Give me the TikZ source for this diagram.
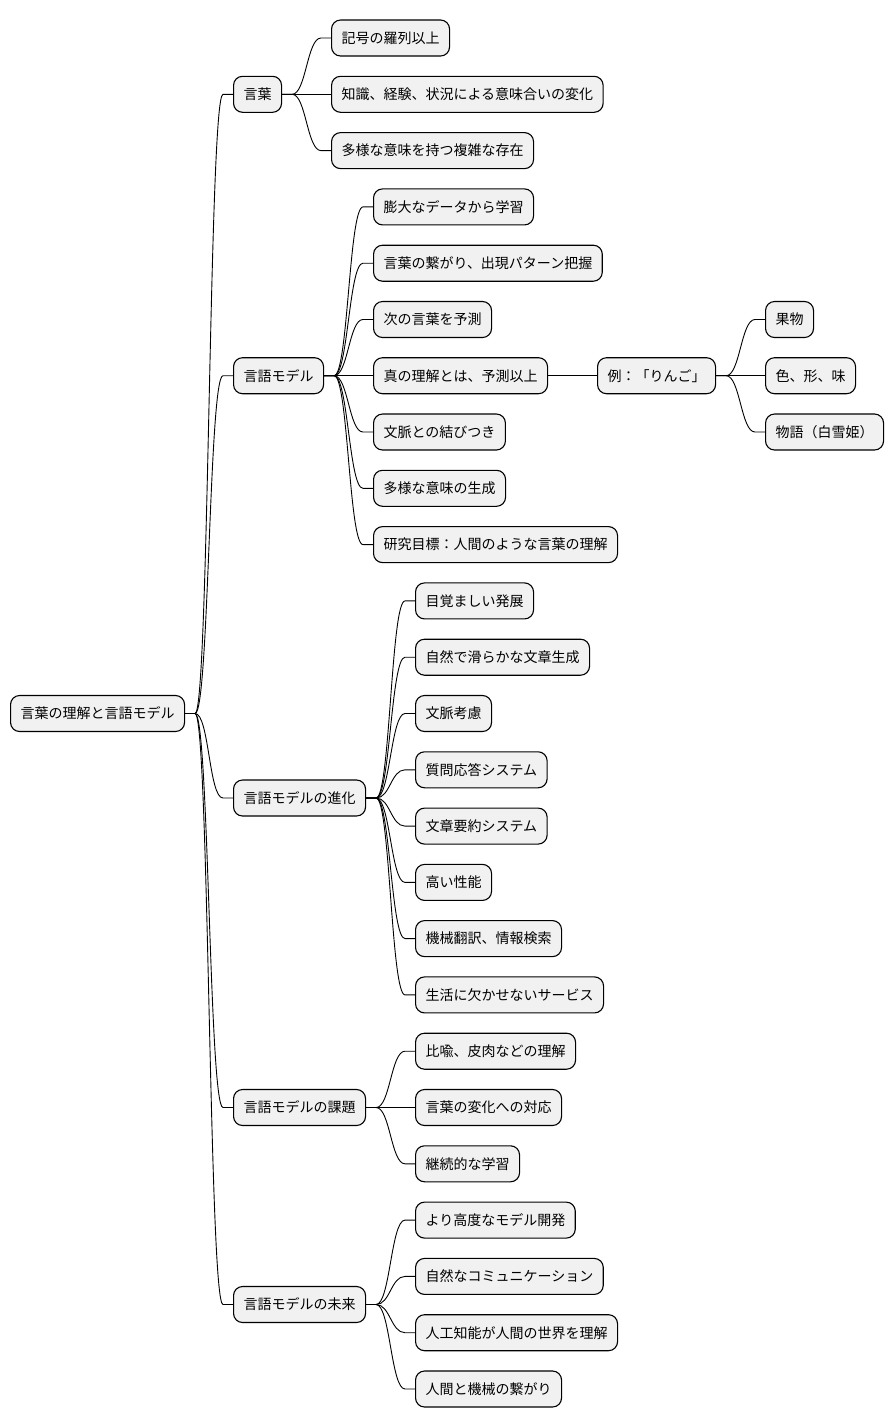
\documentclass[tikz,border=0pt]{standalone}
\usepackage{fontspec}
\setmainfont{Noto Sans CJK JP}
\usetikzlibrary{calc}
\definecolor{nodefill}{HTML}{F1F1F1}
\tikzset{
  mm/.style={draw=black, fill=nodefill, rounded corners=9pt, line width=1.1pt,
    inner xsep=10pt, inner ysep=0pt, minimum height=36pt, anchor=west,
    text height=12pt, text depth=1.4pt, font=\fontsize{14pt}{16pt}\selectfont},
  conn/.style={line width=0.9pt, draw=black}
}
\newcommand{\mmlink}[2]{\draw[conn] (#1.east) -- ($(#1.east)+(10,0)$) .. controls ($(#1.east)+(24,0)$) and ($(#2.west)+(-24,0)$) .. ($(#2.west)+(-10,0)$) -- (#2.west);}
\begin{document}
\begin{tikzpicture}[x=1pt,y=1pt]
\useasboundingbox (0,0) rectangle (894,-1428);
% root
\node[mm] (root) at (10,-713.5) {言葉の理解と言語モデル};
% level 1
\node[mm] (k) at (233,-94.3) {言葉};
\node[mm] (m) at (233,-375.7) {言語モデル};
\node[mm] (sh) at (233,-798.0) {言語モデルの進化};
\node[mm] (ka) at (233,-1107.5) {言語モデルの課題};
\node[mm] (mi) at (233,-1304.5) {言語モデルの未来};
% 言葉
\node[mm] (k1) at (331,-38.0) {記号の羅列以上};
\node[mm] (k2) at (331,-94.3) {知識、経験、状況による意味合いの変化};
\node[mm] (k3) at (331,-150.6) {多様な意味を持つ複雑な存在};
% 言語モデル
\node[mm] (m1) at (373,-206.9) {膨大なデータから学習};
\node[mm] (m2) at (373,-263.2) {言葉の繋がり、出現パターン把握};
\node[mm] (m3) at (373,-319.5) {次の言葉を予測};
\node[mm] (m4) at (373,-375.7) {真の理解とは、予測以上};
\node[mm] (m5) at (373,-432.0) {文脈との結びつき};
\node[mm] (m6) at (373,-488.3) {多様な意味の生成};
\node[mm] (m7) at (373,-544.6) {研究目標：人間のような言葉の理解};
\node[mm] (ex) at (597,-375.7) {例：「りんご」};
\node[mm] (e1) at (765,-319.5) {果物};
\node[mm] (e2) at (765,-375.7) {色、形、味};
\node[mm] (e3) at (765,-432.0) {物語（白雪姫）};
% 進化
\node[mm] (s1) at (415,-600.9) {目覚ましい発展};
\node[mm] (s2) at (415,-657.2) {自然で滑らかな文章生成};
\node[mm] (s3) at (415,-713.5) {文脈考慮};
\node[mm] (s4) at (415,-769.8) {質問応答システム};
\node[mm] (s5) at (415,-826.1) {文章要約システム};
\node[mm] (s6) at (415,-882.4) {高い性能};
\node[mm] (s7) at (415,-938.6) {機械翻訳、情報検索};
\node[mm] (s8) at (415,-994.9) {生活に欠かせないサービス};
% 課題
\node[mm] (a1) at (415,-1051.2) {比喩、皮肉などの理解};
\node[mm] (a2) at (415,-1107.5) {言葉の変化への対応};
\node[mm] (a3) at (415,-1163.8) {継続的な学習};
% 未来
\node[mm] (f1) at (415,-1220.1) {より高度なモデル開発};
\node[mm] (f2) at (415,-1276.4) {自然なコミュニケーション};
\node[mm] (f3) at (415,-1332.7) {人工知能が人間の世界を理解};
\node[mm] (f4) at (415,-1389.0) {人間と機械の繋がり};
% connectors
\foreach \c in {k,m,sh,ka,mi} {\mmlink{root}{\c}}
\foreach \c in {k1,k2,k3} {\mmlink{k}{\c}}
\foreach \c in {m1,m2,m3,m4,m5,m6,m7} {\mmlink{m}{\c}}
\mmlink{m4}{ex}
\foreach \c in {e1,e2,e3} {\mmlink{ex}{\c}}
\foreach \c in {s1,s2,s3,s4,s5,s6,s7,s8} {\mmlink{sh}{\c}}
\foreach \c in {a1,a2,a3} {\mmlink{ka}{\c}}
\foreach \c in {f1,f2,f3,f4} {\mmlink{mi}{\c}}
\end{tikzpicture}
\end{document}
